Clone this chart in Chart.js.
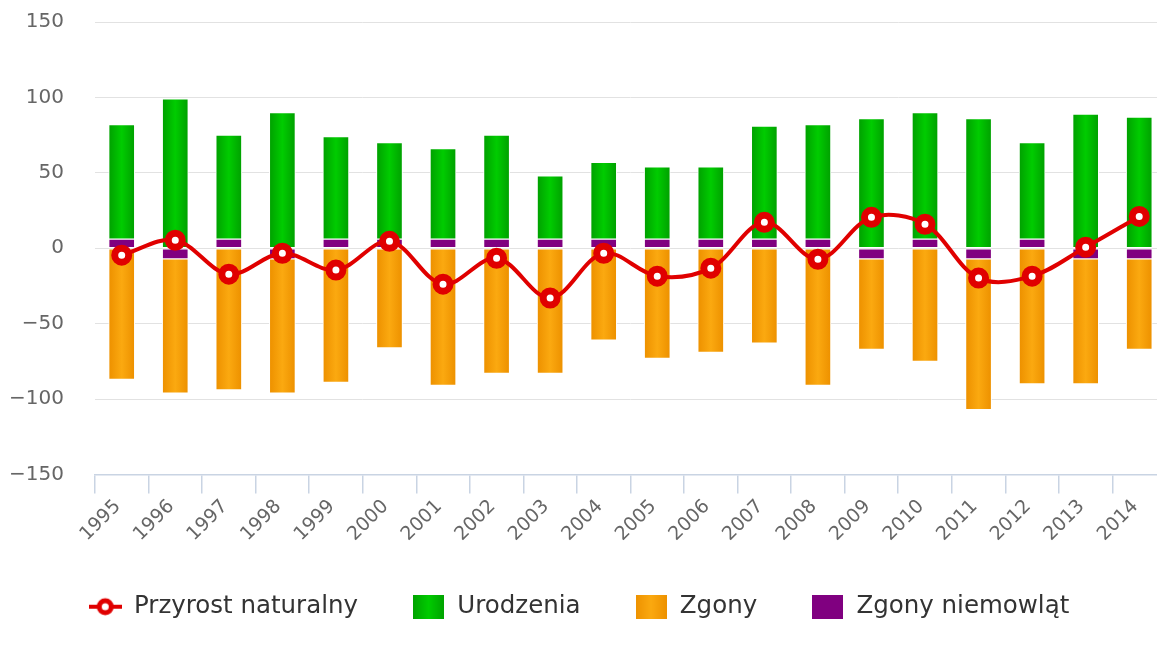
<!DOCTYPE html>
<html lang="pl">
<head>
<meta charset="utf-8">
<title>Przyrost naturalny 1995-2014</title>
<script src="https://cdn.jsdelivr.net/npm/chart.js@4.4.1/dist/chart.umd.min.js"></script>
<style>
  html, body { margin: 0; padding: 0; background: #fff; overflow: hidden; }
  /* obszar wykresu wychodzi nieco poza okno, jak na oryginale */
  #wrap { position: relative; width: 1166px; height: 656px; }
</style>
</head>
<body>
<div id="wrap"><canvas id="chart"></canvas></div>
<script>
// Dane
const years = ['1995', '1996', '1997', '1998', '1999', '2000', '2001', '2002', '2003', '2004',
               '2005', '2006', '2007', '2008', '2009', '2010', '2011', '2012', '2013', '2014'];
const urodzenia = [76, 99, 69, 90, 68, 64, 60, 69, 42, 51, 48, 48, 75, 76, 86, 84, 86, 64, 89, 87];
const zgony = [-87, -89, -94, -89, -89, -66, -91, -83, -83, -61, -73, -69, -63, -91, -60, -75, -100, -90, -83, -60];
const zgonyNiemowlat = [6, -7, 6, -7, 6, 6, 6, 6, 6, 6, 6, 6, 6, 6, -7, 6, -7, 6, -7, -7];
const przyrost = [-4.6, 5.3, -17.2, -3.3, -14.5, 4.6, -23.8, -6.6, -33, -3.3,
                  -18.5, -13.2, 17.2, -7.3, 20.5, 15.9, -19.8, -18.5, 0.7, 21.1];
const yTicks = [-150, -100, -50, 0, 50, 100, 150];

// Kolory
const RED = '#e00000';
const GREEN = ['#00a300', '#00cc00'];
const ORANGE = ['#ee9200', '#fba910'];
const PURPLE = '#800080';
const AXIS = '#c9d4e3';
const LEGEND_DX = 7;

Chart.defaults.font.family = "'DejaVu Sans', Verdana, sans-serif";

// Gradient poziomy dla słupków
function barFill(cols) {
    return function (c) {
        const chart = c.chart;
        const xs = chart.scales.x;
        if (!chart.chartArea || !xs) return cols[1];
        const cx = xs.getPixelForValue(c.dataIndex);
        const g = chart.ctx.createLinearGradient(cx - 12, 0, cx + 12, 0);
        g.addColorStop(0, cols[0]);
        g.addColorStop(0.5, cols[1]);
        g.addColorStop(1, cols[0]);
        return g;
    };
}

// Ikony legendy
function boxIcon(cols) {
    const cv = document.createElement('canvas');
    cv.width = 31; cv.height = 24;
    const ctx = cv.getContext('2d');
    if (Array.isArray(cols)) {
        const g = ctx.createLinearGradient(0, 0, 31, 0);
        g.addColorStop(0, cols[0]);
        g.addColorStop(0.5, cols[1]);
        g.addColorStop(1, cols[0]);
        ctx.fillStyle = g;
    } else {
        ctx.fillStyle = cols;
    }
    ctx.fillRect(0, 0, 31, 24);
    return cv;
}

function lineIcon() {
    const cv = document.createElement('canvas');
    cv.width = 33; cv.height = 20;
    const ctx = cv.getContext('2d');
    ctx.strokeStyle = RED;
    ctx.lineWidth = 4;
    ctx.beginPath();
    ctx.moveTo(0, 10);
    ctx.lineTo(33, 10);
    ctx.stroke();
    ctx.fillStyle = RED;
    ctx.beginPath();
    ctx.arc(16.5, 10, 8.5, 0, Math.PI * 2);
    ctx.fill();
    ctx.fillStyle = '#fff';
    ctx.beginPath();
    ctx.arc(16.5, 10, 3.5, 0, Math.PI * 2);
    ctx.fill();
    return cv;
}

const icons = [lineIcon(), boxIcon(PURPLE), boxIcon(GREEN), boxIcon(ORANGE)];
const legendOrder = [0, 2, 3, 1];

// Przesunięcie legendy w poziomie
const legendShift = {
    id: 'legendShift',
    afterLayout(chart) {
        chart.legend.left += LEGEND_DX;
        chart.legend.right += LEGEND_DX;
    }
};

new Chart(document.getElementById('chart'), {
    type: 'bar',
    data: {
        labels: years,
        datasets: [
            {
                type: 'line',
                label: 'Przyrost naturalny',
                data: przyrost,
                stack: 'line',
                order: 0,
                borderColor: RED,
                borderWidth: 4,
                tension: 0.35,
                pointRadius: 7,
                pointBorderWidth: 7,
                pointBackgroundColor: '#fff',
                pointBorderColor: RED
            },
            {
                label: 'Zgony niemowląt',
                data: zgonyNiemowlat,
                stack: 'bars',
                order: 1,
                backgroundColor: PURPLE
            },
            {
                label: 'Urodzenia',
                data: urodzenia,
                stack: 'bars',
                order: 1,
                backgroundColor: barFill(GREEN)
            },
            {
                label: 'Zgony',
                data: zgony,
                stack: 'bars',
                order: 1,
                backgroundColor: barFill(ORANGE)
            }
        ]
    },
    options: {
        responsive: true,
        maintainAspectRatio: false,
        animation: false,
        layout: {
            autoPadding: false,
            // oś Y ma szerokość etykiet + 2 x padding, stąd ujemny lewy margines
            padding: { left: -22, right: 0, top: 22, bottom: 27 }
        },
        datasets: {
            bar: {
                barThickness: 26,
                borderWidth: 1,
                borderColor: '#fff',
                borderSkipped: false
            }
        },
        plugins: {
            tooltip: { enabled: false },
            legend: {
                position: 'bottom',
                align: 'center',
                labels: {
                    usePointStyle: true,
                    pointStyleWidth: 33,
                    padding: 54,
                    color: '#333',
                    font: { size: 24.5 },
                    generateLabels(chart) {
                        return legendOrder.map(i => ({
                            text: chart.data.datasets[i].label,
                            datasetIndex: i,
                            pointStyle: icons[i],
                            hidden: !chart.isDatasetVisible(i),
                            fontColor: '#333',
                            lineWidth: 0,
                            strokeStyle: 'rgba(0,0,0,0)',
                            fillStyle: 'rgba(0,0,0,0)'
                        }));
                    }
                }
            }
        },
        scales: {
            x: {
                stacked: true,
                offset: true,
                grid: {
                    offset: true,
                    drawOnChartArea: false,
                    drawTicks: true,
                    tickLength: 19,
                    color: AXIS,
                    lineWidth: 1.5
                },
                border: { display: true, color: AXIS, width: 1.5 },
                ticks: {
                    autoSkip: false,
                    minRotation: 45,
                    maxRotation: 45,
                    padding: 2,
                    labelOffset: -4,
                    color: '#666',
                    font: { size: 19 }
                },
                afterFit(scale) {
                    scale.height = 66;
                    scale.paddingLeft = 0;
                    scale.paddingRight = 0;
                }
            },
            y: {
                stacked: true,
                min: yTicks[0],
                max: yTicks[yTicks.length - 1],
                ticks: {
                    stepSize: yTicks[1] - yTicks[0],
                    padding: 31,
                    color: '#666',
                    font: { size: 20 },
                    callback: v => String(v).replace('-', '\u2212')
                },
                grid: {
                    drawTicks: false,
                    color: c => (c.tick && c.tick.value === yTicks[0]) ? 'rgba(0,0,0,0)' : '#e2e2e2'
                },
                border: { display: false },
                afterFit(scale) {
                    scale.paddingTop = 0;
                    scale.paddingBottom = 0;
                }
            }
        }
    },
    plugins: [legendShift]
});
</script>
</body>
</html>
